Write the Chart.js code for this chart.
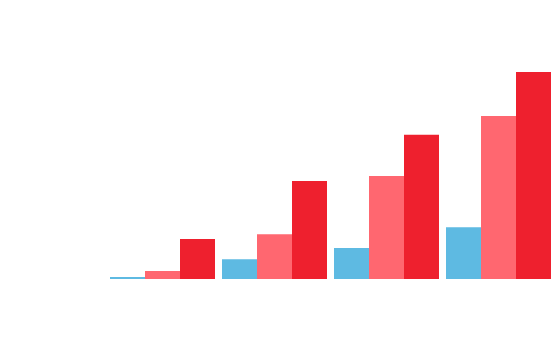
<!DOCTYPE html>
<html>
<head>
<meta charset="utf-8">
<script src="https://cdn.jsdelivr.net/npm/chart.js@4"></script>
<style>
  html, body { margin: 0; padding: 0; background: #ffffff; }
  canvas { display: block; }
</style>
</head>
<body>
<canvas id="c" width="556" height="357"></canvas>
<script>
const categories = ["Q1", "Q2", "Q3", "Q4"];
const seriesBlue = [0.65, 6.35, 10.0, 16.7];
const seriesPink = [2.6, 14.4, 33.2, 52.6];
const seriesRed = [12.9, 31.6, 46.5, 66.8];
const yMax = 90;

new Chart(document.getElementById('c'), {
  type: 'bar',
  data: {
    labels: categories,
    datasets: [
      { label: 'A', data: seriesBlue, backgroundColor: '#5ebae2' },
      { label: 'B', data: seriesPink, backgroundColor: '#ff6770' },
      { label: 'C', data: seriesRed, backgroundColor: '#ee202e' }
    ]
  },
  options: {
    responsive: false,
    animation: false,
    layout: { padding: { left: 106.5, right: 1.5, top: 0, bottom: 78 } },
    datasets: { bar: { categoryPercentage: 0.9375, barPercentage: 1, borderWidth: 0 } },
    plugins: { legend: { display: false }, tooltip: { enabled: false } },
    scales: {
      x: { display: false },
      y: { display: false, min: 0, max: yMax }
    }
  }
});
</script>
</body>
</html>
